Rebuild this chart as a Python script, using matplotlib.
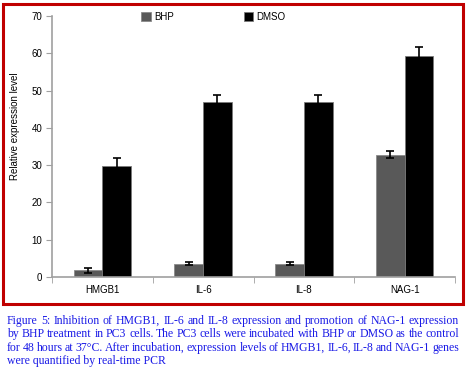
import numpy as np
import matplotlib.pyplot as plt
from matplotlib.patches import Rectangle

genes = ["HMGB1", "IL-6", "IL-8", "NAG-1"]
bhp = [1.8, 3.6, 3.6, 32.8]
bhp_err = [0.6, 0.5, 0.5, 1.0]
dmso = [29.8, 47.0, 47.0, 59.2]
dmso_err = [2.0, 1.7, 1.7, 2.5]
y_ticks = [0, 10, 20, 30, 40, 50, 60, 70]

caption = [
    "Figure 5: Inhibition of HMGB1, IL-6 and IL-8 expression and promotion of NAG-1 expression",
    "by BHP treatment in PC3 cells.  The PC3 cells were incubated with BHP or DMSO as the control",
    "for 48 hours at 37°C. After incubation, expression levels of HMGB1, IL-6, IL-8 and NAG-1 genes",
    "were quantified by real-time PCR",
]

plt.rcParams["font.family"] = ["Liberation Sans", "DejaVu Sans"]

fig = plt.figure(figsize=(4.66, 3.77), dpi=100)
ax = fig.add_axes([52 / 466, 1 - 277 / 377, 403 / 466, 261 / 377])

x = np.arange(len(genes))
w = 0.285
ekw = dict(elinewidth=1.2, capthick=1.2)
ax.bar(x - w / 2, bhp, w, color="#595959", edgecolor="#8a8a8a", linewidth=0.6,
       yerr=bhp_err, capsize=3, error_kw=ekw, label="BHP", zorder=2)
ax.bar(x + w / 2, dmso, w, color="#000000", edgecolor="#7a7a7a", linewidth=0.6,
       yerr=dmso_err, capsize=3, error_kw=ekw, label="DMSO", zorder=2)

ax.set_xlim(-0.5, len(genes) - 0.5)
ax.set_ylim(0, 70)
ax.set_yticks(y_ticks)
ax.set_xticks(x)
ax.set_xticklabels(genes)
ax.set_xticks(np.arange(len(genes) + 1) - 0.5, minor=True)
ax.tick_params(axis="x", which="major", length=0, labelsize=7, pad=6)
ax.tick_params(axis="x", which="minor", length=4, color="#a0a0a0", direction="out")
ax.tick_params(axis="y", length=4, color="#a0a0a0", labelsize=7, pad=3)
for s in ["top", "right"]:
    ax.spines[s].set_visible(False)
for s in ["left", "bottom"]:
    ax.spines[s].set_color("#a0a0a0")
    ax.spines[s].set_linewidth(1.2)
ax.set_ylabel("Relative expression level", fontsize=7)
ax.yaxis.set_label_coords(-0.08, 0.578)

ax.legend(loc="upper center", bbox_to_anchor=(0.40, 1.05), ncol=2, frameon=False,
          fontsize=7, handlelength=1.0, handleheight=1.0, columnspacing=7.2,
          handletextpad=0.3)

# red frame around the chart
fig.patches.append(Rectangle((3 / 466, 1 - 304 / 377), 460 / 466, 300 / 377,
                             transform=fig.transFigure, fill=False,
                             edgecolor="#c00000", linewidth=2.2))

# caption, justified like the source page
cap_kw = dict(color="#1a1ae6", fontsize=8.5,
              family=["Liberation Serif", "DejaVu Serif"], va="baseline")
left, right = 7, 459
renderer = fig.canvas.get_renderer()
for i, line in enumerate(caption):
    ypos = 1 - (324 + 13.3 * i) / 377
    words = line.split()
    if i == len(caption) - 1:
        fig.text(left / 466, ypos, line, **cap_kw)
        continue
    arts = [fig.text(0, ypos, wd, **cap_kw) for wd in words]
    widths = [a.get_window_extent(renderer).width for a in arts]
    gap = (right - left - sum(widths)) / (len(words) - 1)
    xpos = left
    for a, wdt in zip(arts, widths):
        a.set_x(xpos / 466)
        xpos += wdt + gap

fig.savefig("out.png", dpi=100)
